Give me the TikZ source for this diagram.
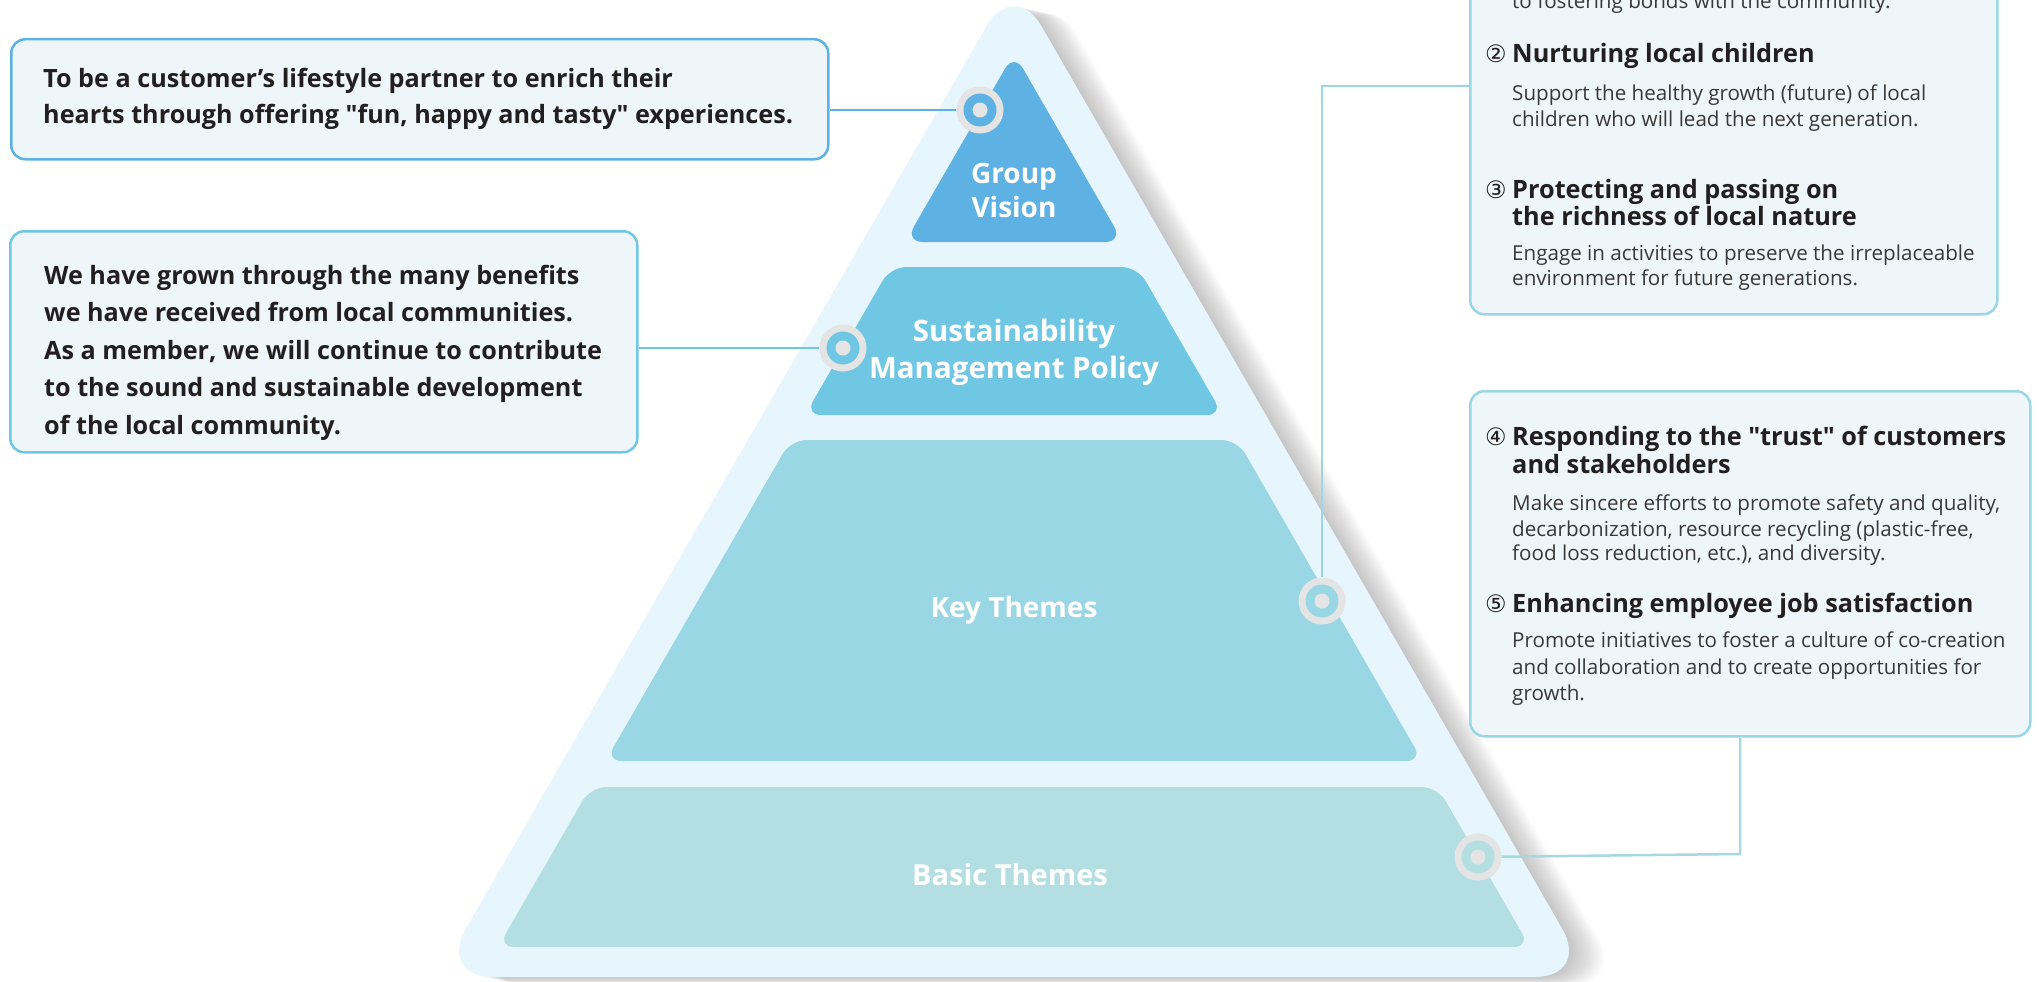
\documentclass[tikz,border=0pt]{standalone}
\usepackage{fontspec}
\setmainfont{Open Sans}
\newfontfamily\qfont{Open Sans}
\newfontfamily\circfont{DejaVu Sans}
\usetikzlibrary{calc}

\definecolor{skyout}{HTML}{E7F5FC}
\definecolor{gvblue}{HTML}{5DB2E3}
\definecolor{smpblue}{HTML}{6FC7E4}
\definecolor{ktblue}{HTML}{9AD7E4}
\definecolor{btblue}{HTML}{B4DFE2}
\definecolor{btline}{HTML}{A6D8DF}
\definecolor{ringgray}{HTML}{E4E4E4}
\definecolor{boxfill}{HTML}{EEF6FA}
\definecolor{ink}{HTML}{231F20}
\definecolor{bodyink}{HTML}{3A3838}

% straight double quote, set without the TeX quote mapping
\newcommand\dq{{\qfont"}}

\begin{document}
\begin{tikzpicture}[x=1pt,y=-1pt,
  infobox/.style={draw=#1, line width=2.5pt, fill=boxfill, rounded corners=14pt,
    inner sep=0, anchor=north west},
  lefttxt/.style={font=\bfseries\fontsize{25.2}{30}\selectfont, text=ink, anchor=base west, inner sep=0},
  headtxt/.style={font=\bfseries\fontsize{25.3}{30}\selectfont, text=ink, anchor=base west, inner sep=0},
  numtxt/.style={font=\circfont\fontsize{24}{28}\selectfont, text=ink, anchor=base west, inner sep=0},
  bodytxt/.style={font=\fontsize{20.6}{25}\selectfont, text=bodyink, anchor=base west, inner sep=0},
  tiertxt/.style={font=\bfseries\fontsize{28}{34}\selectfont, text=white, anchor=base, inner sep=0},
  marker/.style={circle, fill=ringgray, minimum size=47pt, inner sep=0,
    path picture={\fill[#1] (path picture bounding box.center) circle (16.5pt);
                  \fill[ringgray] (path picture bounding box.center) circle (7.5pt);}},
  link/.style={draw=#1, line width=2.5pt}
]
\useasboundingbox (0,0) rectangle (2039,982);

% soft shadow to the lower right of the pyramid
\foreach \i in {1,...,16}
  \fill[black, opacity=0.016, rounded corners=55pt, xshift=\i*2.2pt, yshift=-\i*0.5pt]
    (1014,-21.5) -- (1590,977) -- (438,977) -- cycle;

% pyramid body
\fill[skyout, rounded corners=55pt] (1014,-21.5) -- (1590,977) -- (438,977) -- cycle;

% tiers
\fill[gvblue, rounded corners=18pt] (1014,53) -- (1123,242) -- (905,242) -- cycle;
\fill[smpblue, rounded corners=16pt] (890.5,267) -- (1137.5,267) -- (1223,415) -- (805,415) -- cycle;
\fill[ktblue, rounded corners=16pt] (790.7,440) -- (1237.3,440) -- (1422.5,761) -- (605.5,761) -- cycle;
\fill[btblue, rounded corners=16pt] (590.5,787) -- (1437.5,787) -- (1530,947) -- (498,947) -- cycle;

\node[tiertxt] (gv1) at (1014,183) {Group};
\node[tiertxt] (gv2) at (1014,217) {Vision};
\node[tiertxt, font=\bfseries\fontsize{29.5}{34}\selectfont] (smp1) at (1014,341) {Sustainability};
\node[tiertxt, font=\bfseries\fontsize{29.5}{34}\selectfont] (smp2) at (1014,378) {Management Policy};
\node[tiertxt] (kt) at (1014,617) {Key Themes};
\node[tiertxt, font=\bfseries\fontsize{29}{34}\selectfont] (bt) at (1010,885) {Basic Themes};

% left boxes
\node[infobox=gvblue, minimum width=817pt, minimum height=120pt] (lbox1) at (10,38) {};
\node[lefttxt] (v1) at (43,88) {To be a customer’s lifestyle partner to enrich their};
\node[lefttxt] (v2) at (43,123) {hearts through offering \dq fun, happy and tasty\dq{} experiences.};

\node[infobox=smpblue, minimum width=627pt, minimum height=221pt] (lbox2) at (9,230) {};
\node[lefttxt] (p1) at (44,284) {We have grown through the many benefits};
\node[lefttxt] (p2) at (44,321.5) {we have received from local communities.};
\node[lefttxt] (p3) at (44,359) {As a member, we will continue to contribute};
\node[lefttxt] (p4) at (44,396.5) {to the sound and sustainable development};
\node[lefttxt] (p5) at (44,434) {of the local community.};

% right boxes
\node[infobox=ktblue, minimum width=527pt, minimum height=353pt] (rbox1) at (1469,-40) {};
\node[bodytxt] (a0) at (1512,9) {to fostering bonds with the community.};
\node[numtxt] (n2) at (1485,63) {②};
\node[headtxt] (h2) at (1512,63) {Nurturing local children};
\node[bodytxt] (b2a) at (1512,100) {Support the healthy growth (future) of local};
\node[bodytxt] (b2b) at (1512,126) {children who will lead the next generation.};
\node[numtxt] (n3) at (1485,198) {③};
\node[headtxt] (h3a) at (1512,198) {Protecting and passing on};
\node[headtxt] (h3b) at (1512,225) {the richness of local nature};
\node[bodytxt] (b3a) at (1512,260) {Engage in activities to preserve the irreplaceable};
\node[bodytxt] (b3b) at (1512,285) {environment for future generations.};

\node[infobox=ktblue, minimum width=560pt, minimum height=345pt] (rbox2) at (1469,390) {};
\node[numtxt] (n4) at (1485,445) {④};
\node[headtxt] (h4a) at (1512,445) {Responding to the \dq trust\dq{} of customers};
\node[headtxt] (h4b) at (1512,473) {and stakeholders};
\node[bodytxt] (b4a) at (1512,510) {Make sincere efforts to promote safety and quality,};
\node[bodytxt] (b4b) at (1512,536) {decarbonization, resource recycling (plastic-free,};
\node[bodytxt] (b4c) at (1512,560) {food loss reduction, etc.), and diversity.};
\node[numtxt] (n5) at (1485,612) {⑤};
\node[headtxt] (h5) at (1512,612) {Enhancing employee job satisfaction};
\node[bodytxt] (b5a) at (1512,647) {Promote initiatives to foster a culture of co-creation};
\node[bodytxt] (b5b) at (1512,674) {and collaboration and to create opportunities for};
\node[bodytxt] (b5c) at (1512,700) {growth.};

% markers on the tier edges
\node[marker=gvblue] (gvm) at (980,110) {};
\node[marker=smpblue] (smpm) at (843,348) {};
\node[marker=ktblue] (ktm) at (1322,601) {};
\node[marker=btblue] (btm) at (1478,857) {};

% connectors
\coordinate (kt-bend) at (1322,86);
\coordinate (bt-bend) at (1740,854);
\draw[link=gvblue] (gvm) -- (gvm -| lbox1.east);
\draw[link=smpblue] (smpm) -- (smpm -| lbox2.east);
\draw[link=ktblue] (ktm) -- (kt-bend) -- (kt-bend -| rbox1.west);
\draw[link=btline] (btm) -- (bt-bend) -- (bt-bend |- rbox2.south);
\end{tikzpicture}
\end{document}
